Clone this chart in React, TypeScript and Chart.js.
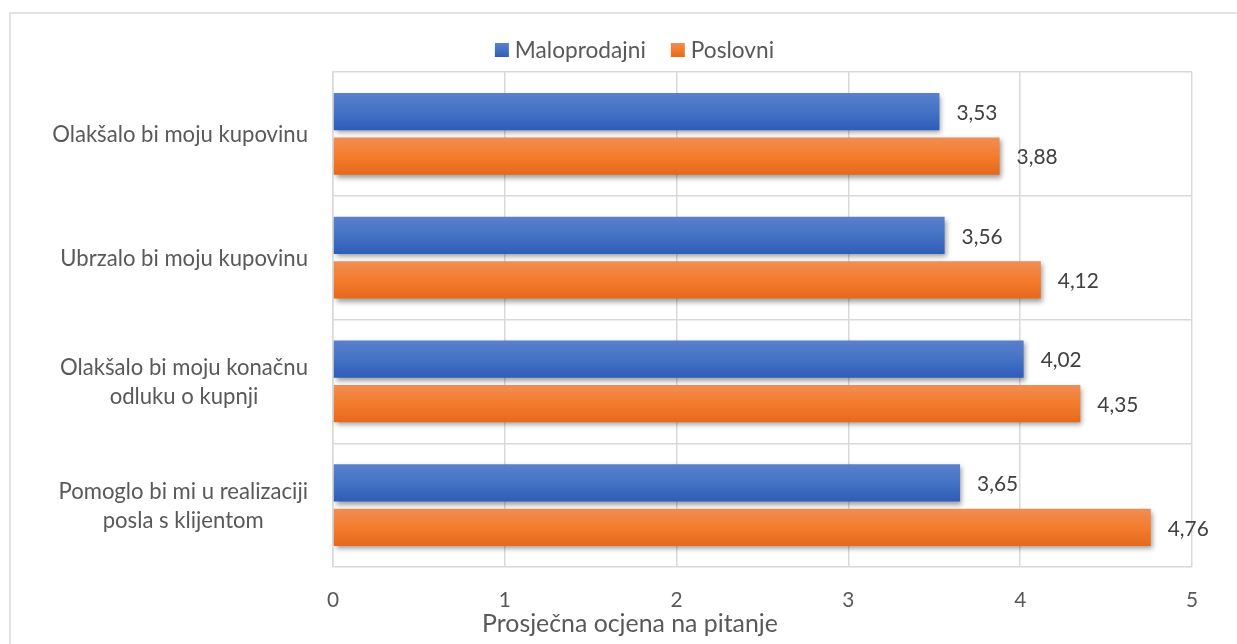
import React, { useEffect, useRef } from 'react';
import { Chart, registerables } from 'chart.js';

Chart.register(...registerables);

// ---------- data ----------
const categories: string[][] = [
  ['Olakšalo bi moju kupovinu'],
  ['Ubrzalo bi moju kupovinu'],
  ['Olakšalo bi moju konačnu', 'odluku o kupnji'],
  ['Pomoglo bi mi u realizaciji', 'posla s klijentom'],
];
const seriesNames = ['Maloprodajni', 'Poslovni'];
const maloprodajni = [3.53, 3.56, 4.02, 3.65];
const poslovni = [3.88, 4.12, 4.35, 4.76];
const xMin = 0;
const xMax = 5;
const xStep = 1;
const axisTitle = 'Prosječna ocjena na pitanje';

// ---------- style ----------
const W = 1237;
const H = 644;
const FAMILY = 'Lato, "Open Sans", sans-serif';
const GRID = '#d9d9d9';
const TEXT = '#595959';
const LABEL_TEXT = '#404040';
const CAT_PCT = 0.72;
const BAR_PCT = 0.84;
const seriesGrad = [
  ['#5b80cd', '#4472c4', '#2e5cb9'],
  ['#f08d55', '#f47c2c', '#e5691b'],
];

const measureCtx = document.createElement('canvas').getContext('2d') as CanvasRenderingContext2D;
function fitSize(text: string, width: number): number {
  measureCtx.font = `100px ${FAMILY}`;
  return (100 * width) / measureCtx.measureText(text).width;
}

const fmt = (v: number) => v.toFixed(2).replace('.', ',');

export default function App() {
  const ref = useRef<HTMLCanvasElement | null>(null);

  useEffect(() => {
    document.body.style.margin = '0';
    document.body.style.overflow = 'hidden';
    const canvas = ref.current;
    if (!canvas) return;

    const fLegend = fitSize('Maloprodajni', 131);
    const fCat = fitSize('Olakšalo bi moju kupovinu', 256);
    const fTitle = fitSize(axisTitle, 296);
    const fVal = fitSize('3,53', 41);

    const gradFor = (ctx: any) => {
      const chart = ctx.chart;
      const colors = seriesGrad[ctx.datasetIndex] || seriesGrad[0];
      const y = chart.scales && chart.scales.y;
      if (!y || ctx.type !== 'data' || !chart.chartArea) return colors[1];
      const cat = y.getPixelForValue(ctx.dataIndex);
      const catH = (y.bottom - y.top) / categories.length;
      const slot = (catH * CAT_PCT) / 2;
      const center = cat - (catH * CAT_PCT) / 2 + slot * (ctx.datasetIndex + 0.5);
      const h = slot * BAR_PCT;
      const g = chart.ctx.createLinearGradient(0, center - h / 2, 0, center + h / 2);
      g.addColorStop(0, colors[0]);
      g.addColorStop(0.5, colors[1]);
      g.addColorStop(1, colors[2]);
      return g;
    };

    const decor = {
      id: 'decor',
      beforeDraw(chart: any) {
        const c = chart.ctx;
        c.save();
        c.fillStyle = '#ffffff';
        c.fillRect(0, 0, W, H);
        c.strokeStyle = GRID;
        c.lineWidth = 1.5;
        c.strokeRect(10, 13, 1400, 1000);
        c.restore();
      },
      beforeDatasetsDraw(chart: any) {
        const c = chart.ctx;
        c.save();
        c.shadowColor = 'rgba(0,0,0,0.38)';
        c.shadowBlur = 5;
        c.shadowOffsetX = 2;
        c.shadowOffsetY = 3;
      },
      afterDatasetsDraw(chart: any) {
        const c = chart.ctx;
        c.restore();
        c.save();
        c.font = `${fVal}px ${FAMILY}`;
        c.fillStyle = LABEL_TEXT;
        c.textAlign = 'left';
        c.textBaseline = 'middle';
        chart.data.datasets.forEach((ds: any, di: number) => {
          const meta = chart.getDatasetMeta(di);
          meta.data.forEach((bar: any, i: number) => {
            c.fillText(fmt(ds.data[i]), bar.x + 17, bar.y + 1.5);
          });
        });
        c.restore();
      },
      afterDraw(chart: any) {
        const c = chart.ctx;
        const y = chart.scales.y;
        c.save();
        // category labels
        c.font = `${fCat}px ${FAMILY}`;
        c.fillStyle = TEXT;
        c.textAlign = 'center';
        c.textBaseline = 'middle';
        const LH = 29;
        categories.forEach((lines, i) => {
          const cy = y.getPixelForValue(i);
          const w = Math.max(...lines.map((l) => c.measureText(l).width));
          const cx = 308 - w / 2;
          lines.forEach((l, j) => {
            c.fillText(l, cx, cy + (j - (lines.length - 1) / 2) * LH + 1);
          });
        });
        // axis title
        c.font = `${fTitle}px ${FAMILY}`;
        c.textAlign = 'center';
        c.textBaseline = 'alphabetic';
        c.fillText(axisTitle, 630, 632);
        // legend
        c.font = `${fLegend}px ${FAMILY}`;
        c.textAlign = 'left';
        const box = 14;
        const gap = 6;
        const itemGap = 25;
        const widths = seriesNames.map((n) => box + gap + c.measureText(n).width);
        const total = widths.reduce((a, b) => a + b, 0) + itemGap * (seriesNames.length - 1);
        let x = 634.5 - total / 2;
        seriesNames.forEach((n, i) => {
          const g = c.createLinearGradient(0, 43, 0, 43 + box);
          g.addColorStop(0, seriesGrad[i][0]);
          g.addColorStop(0.5, seriesGrad[i][1]);
          g.addColorStop(1, seriesGrad[i][2]);
          c.fillStyle = g;
          c.fillRect(x, 43, box, box);
          c.fillStyle = TEXT;
          c.fillText(n, x + box + gap, 58);
          x += widths[i] + itemGap;
        });
        c.restore();
      },
    };

    const chart = new Chart(canvas, {
      type: 'bar',
      data: {
        labels: categories,
        datasets: [
          { label: seriesNames[0], data: maloprodajni, backgroundColor: gradFor, borderWidth: 0 },
          { label: seriesNames[1], data: poslovni, backgroundColor: gradFor, borderWidth: 0 },
        ],
      },
      options: {
        indexAxis: 'y',
        animation: false,
        responsive: false,
        maintainAspectRatio: false,
        devicePixelRatio: 1,
        categoryPercentage: CAT_PCT,
        barPercentage: BAR_PCT,
        layout: { padding: { top: 72, right: 45, left: 0, bottom: 0 } },
        plugins: {
          legend: { display: false },
          tooltip: { enabled: false },
          title: { display: false },
        },
        scales: {
          x: {
            min: xMin,
            max: xMax,
            ticks: {
              stepSize: xStep,
              color: TEXT,
              font: { family: FAMILY, size: fVal },
              padding: 21,
              callback: (v: any) => String(v),
            },
            grid: { color: GRID, lineWidth: 1.5, drawTicks: false },
            border: { display: false },
            afterFit: (s: any) => {
              s.height = H - 567;
            },
          },
          y: {
            ticks: { display: false },
            grid: { color: GRID, lineWidth: 1.5, drawTicks: false, offset: true },
            border: { display: true, color: GRID, width: 1.5 },
            afterFit: (s: any) => {
              s.width = 333;
            },
          },
        },
      },
      plugins: [decor],
    } as any);

    return () => chart.destroy();
  }, []);

  return (
    <div style={{ position: 'fixed', left: 0, top: 0, width: W, height: H }}>
      <canvas ref={ref} width={W} height={H} style={{ width: W, height: H, display: 'block' }} />
    </div>
  );
}
